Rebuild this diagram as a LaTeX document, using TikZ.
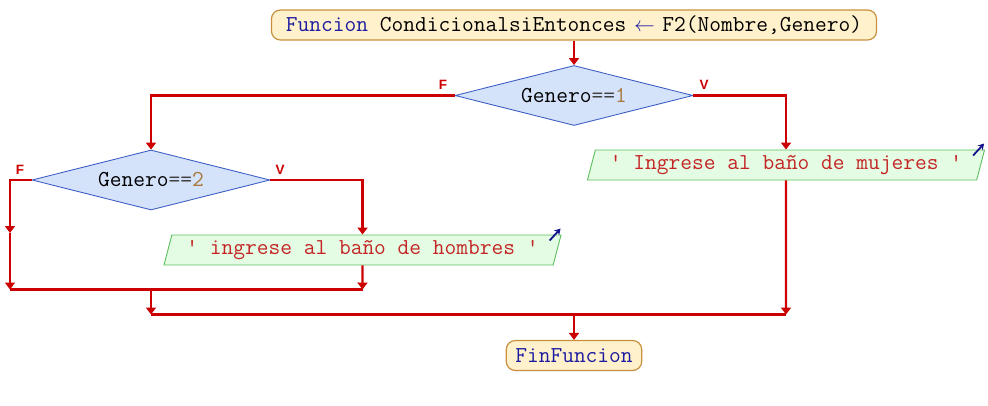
\documentclass[tikz,border=0pt]{standalone}
\usepackage{fontspec}
\usetikzlibrary{shapes.geometric,arrows.meta,calc}
\newfontfamily\lblfont{Liberation Sans}
\definecolor{flow}{HTML}{CC0000}
\definecolor{termf}{HTML}{FFF1CC}
\definecolor{termb}{HTML}{C8903C}
\definecolor{decf}{HTML}{D4E2FA}
\definecolor{decb}{HTML}{4062C6}
\definecolor{outf}{HTML}{E4FCE4}
\definecolor{outb}{HTML}{5CBF5C}
\definecolor{kw}{HTML}{1C1CA0}
\definecolor{strc}{HTML}{C42626}
\definecolor{numc}{HTML}{A8783C}
\definecolor{eqc}{HTML}{404040}
\definecolor{outarr}{HTML}{14148C}
\newcommand{\codefont}{\ttfamily\fontsize{22.8}{26}\selectfont}
\begin{document}
\begin{tikzpicture}[x=1pt,y=-1pt,
  term/.style={draw=termb, fill=termf, rounded corners=9pt, line width=1.2pt,
    minimum height=30pt, inner ysep=0pt, inner xsep=9pt, font=\codefont},
  dec/.style={diamond, draw=decb, fill=decf, line width=0.9pt, aspect=4,
    minimum width=238pt, minimum height=60pt, inner sep=0pt, font=\codefont},
  outbox/.style={trapezium, trapezium left angle=68, trapezium right angle=112,
    trapezium stretches body=true, draw=outb, fill=outf, line width=0.9pt,
    minimum width=397pt, minimum height=30pt, inner sep=0pt, font=\codefont, text=strc},
  fline/.style={draw=flow, line width=2.4pt},
  arr/.style={fline, -{Triangle[width=10pt,length=7pt]}},
  lbl/.style={text=flow, inner sep=0pt, font=\lblfont\bfseries\fontsize{13.5}{13.5}\selectfont},
  outarrow/.style={draw=outarr, line width=1.8pt, -{Stealth[length=6pt,width=7pt]}}
]
\useasboundingbox (0,0) rectangle (988,405);

% nodes
\node[term, inner xsep=14.5pt] (start) at (574,25)
  {\textcolor{kw}{Funcion} CondicionalsiEntonces\hbox to 36pt{\hss\textcolor{kw}{$\leftarrow$}\hss}F2(Nombre,Genero)};
\node[dec] (d1) at (574,95.5) {Genero\textcolor{eqc}{==}\textcolor{numc}{1}};
\node[dec] (d2) at (151,180) {Genero\textcolor{eqc}{==}\textcolor{numc}{2}};
\node[outbox] (o2) at (786,165) {\textquotesingle{} Ingrese al baño de mujeres \textquotesingle};
\node[outbox] (o1) at (362.5,250) {\textquotesingle{} ingrese al baño de hombres \textquotesingle};
\node[term] (end) at (574,355.5) {\textcolor{kw}{FinFuncion}};

% labels
\node[lbl] (f1) at (443,85) {F};
\node[lbl] (v1) at (704,85) {V};
\node[lbl] (f2) at (20,170) {F};
\node[lbl] (v2) at (280,170) {V};

% coordinates
\coordinate (lx1) at (10,233);
\coordinate (lx2) at (10,289.5);
\coordinate (jm1) at (362.5,289.5);
\coordinate (m1) at (151,289.5);
\coordinate (m2) at (151,314.5);
\coordinate (r2) at (786,314.5);
\coordinate (m3) at (574,314.5);

% connectors
\draw[arr] (start.south) -- (d1.north);
\draw[arr] (d1.west) -| (d2.north);
\draw[arr] (d1.east) -| (o2.north);
\draw[arr] (d2.east) -| (o1.north);
\draw[arr] (d2.west) -| (lx1);
\draw[arr] (lx1) -- (lx2);
\draw[arr] (o1.south) -- (jm1);
\draw[fline] (lx2) -- (jm1);
\draw[arr] (m1) -- (m2);
\draw[arr] (o2.south) -- (r2);
\draw[fline] (m2) -- (r2);
\draw[arr] (m3) -- (end.north);

% output markers
\coordinate (o1s) at ($(o1.top right corner)+(-12,6)$);
\coordinate (o1e) at ($(o1.top right corner)+(-1,-6)$);
\coordinate (o2s) at ($(o2.top right corner)+(-12,6)$);
\coordinate (o2e) at ($(o2.top right corner)+(-1,-6)$);
\draw[outarrow] (o1s) -- (o1e);
\draw[outarrow] (o2s) -- (o2e);
\end{tikzpicture}
\end{document}
